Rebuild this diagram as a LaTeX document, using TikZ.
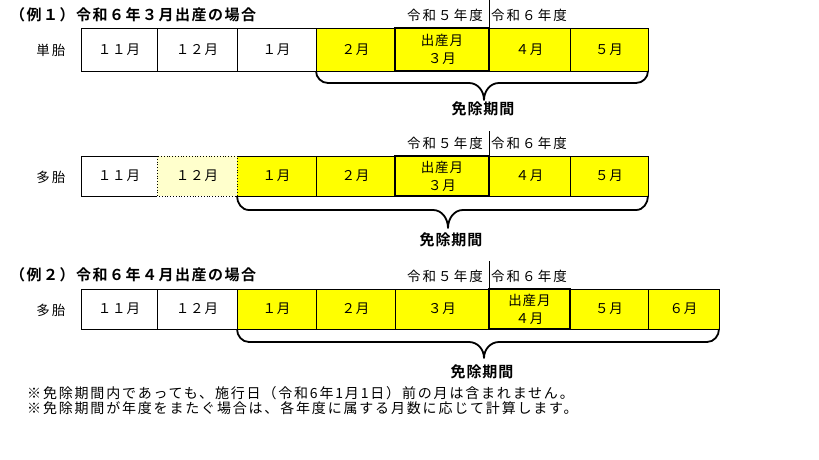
\documentclass[tikz,border=0pt]{standalone}
\usepackage{fontspec}
\setmainfont{Noto Sans CJK JP}
\newfontfamily\cellfont[LetterSpace=6]{Noto Sans CJK JP}
\newfontfamily\yrfont[LetterSpace=15]{Noto Sans CJK JP}
\newfontfamily\ttlfont[LetterSpace=10]{Noto Sans CJK JP Bold}
\newfontfamily\lblfont[LetterSpace=6]{Noto Sans CJK JP Bold}
\newfontfamily\notefont[LetterSpace=13]{Noto Sans CJK JP}
\definecolor{hiyel}{HTML}{FFFF00}
\definecolor{paleyel}{HTML}{FFFFCC}
\tikzset{
  cellbox/.style={draw=black,line width=0.8pt,inner sep=0pt,outer sep=0pt,align=center,font=\cellfont\fontsize{13.5}{18}\selectfont},
  cellfill/.style={inner sep=0pt,outer sep=0pt,align=center,font=\cellfont\fontsize{13.5}{18}\selectfont},
  yel/.style={fill=hiyel},
  birth/.style={line width=2pt},
  bracepath/.style={line width=1.8pt,line join=round},
  ttl/.style={inner sep=0pt,anchor=west,font=\ttlfont\fontsize{15}{17}\selectfont},
  lbl/.style={inner sep=0pt,font=\lblfont\fontsize{15}{17}\selectfont},
  yr/.style={inner sep=0pt,font=\yrfont\fontsize{13.5}{15}\selectfont},
  note/.style={inner sep=0pt,anchor=west,font=\notefont\fontsize{14}{15}\selectfont},
  yrline/.style={line width=0.8pt}
}
\begin{document}
\begin{tikzpicture}[x=1pt,y=-1pt]
\useasboundingbox[fill=white] (0,0) rectangle (819,460);

% ===== Example 1 title
\node[ttl] (t1) at (10,15) {（例１）令和６年３月出産の場合};

% ===== Row 1 (単胎)
\node[yr] (s1) at (51,50) {単胎};
\node[cellbox,minimum width=76pt,minimum height=43pt] (a1) at (119,49.5) {１１月};
\node[cellbox,minimum width=80pt,minimum height=43pt] (a2) at (197,49.5) {１２月};
\node[cellbox,minimum width=79pt,minimum height=43pt] (a3) at (276.5,49.5) {１月};
\node[cellbox,yel,minimum width=79pt,minimum height=43pt] (a4) at (355.5,49.5) {２月};
\node[cellbox,yel,minimum width=81pt,minimum height=43pt] (a6) at (529.5,49.5) {４月};
\node[cellbox,yel,minimum width=78pt,minimum height=43pt] (a7) at (609,49.5) {５月};
\node[cellbox,yel,birth,minimum width=94pt,minimum height=43pt] (a5) at (442,49.5) {出産月\\３月};

\node[yr,anchor=east] (y1a) at (483,15) {令和５年度};
\node[yr,anchor=west] (y1b) at (491,15) {令和６年度};
\coordinate (v1) at (489,0);
\draw[yrline] (v1) -- (a5.north east);

\coordinate (b1l) at (316,71);
\coordinate (b1r) at (648,71);
\coordinate (b1t) at (484,100);
\draw[bracepath] (b1l) to[out=-90,in=180] (328,83) -- (469,83) to[out=0,in=90] (b1t) to[out=90,in=180] (499,83) -- (636,83) to[out=0,in=-90] (b1r);
\node[lbl] (l1) at (483,109) {免除期間};

% ===== Row 2 (多胎)
\node[yr] (s2) at (51,177) {多胎};
\node[cellfill,minimum width=76pt,minimum height=40pt] (c1) at (119,176) {１１月};
\node[cellfill,fill=paleyel,minimum width=80pt,minimum height=40pt] (c2) at (197,176) {１２月};
\node[cellfill,yel,minimum width=79pt,minimum height=40pt] (c3) at (276.5,176) {１月};
\draw[line width=0.8pt] (c1.north east) -- (c1.north west) -- (c1.south west) -- (c1.south east);
\draw[line width=0.8pt] (c3.north west) -- (c3.north east) -- (c3.south east) -- (c3.south west);
\draw[line width=0.8pt,dotted] (c2.north west) rectangle (c2.south east);
\node[cellbox,yel,minimum width=79pt,minimum height=40pt] (c4) at (355.5,176) {２月};
\node[cellbox,yel,minimum width=81pt,minimum height=40pt] (c6) at (529.5,176) {４月};
\node[cellbox,yel,minimum width=78pt,minimum height=40pt] (c7) at (609,176) {５月};
\node[cellbox,yel,birth,minimum width=94pt,minimum height=40pt] (c5) at (442,176) {出産月\\３月};

\node[yr,anchor=east] (y2a) at (483,143) {令和５年度};
\node[yr,anchor=west] (y2b) at (491,143) {令和６年度};
\coordinate (v2) at (489,131);
\draw[yrline] (v2) -- (c5.north east);

\coordinate (b2l) at (237,196);
\coordinate (b2r) at (648,196);
\coordinate (b2t) at (448,228);
\draw[bracepath] (b2l) to[out=-90,in=180] (249,210) -- (433,210) to[out=0,in=90] (b2t) to[out=90,in=180] (463,210) -- (636,210) to[out=0,in=-90] (b2r);
\node[lbl] (l2) at (451,240) {免除期間};

% ===== Example 2 title
\node[ttl] (t2) at (10,275) {（例２）令和６年４月出産の場合};

% ===== Row 3 (多胎)
\node[yr] (s3) at (51,310) {多胎};
\node[cellbox,minimum width=76pt,minimum height=40pt] (d1) at (119,309) {１１月};
\node[cellbox,minimum width=80pt,minimum height=40pt] (d2) at (197,309) {１２月};
\node[cellbox,yel,minimum width=79pt,minimum height=40pt] (d3) at (276.5,309) {１月};
\node[cellbox,yel,minimum width=79pt,minimum height=40pt] (d4) at (355.5,309) {２月};
\node[cellbox,yel,minimum width=94pt,minimum height=40pt] (d5) at (442,309) {３月};
\node[cellbox,yel,minimum width=78pt,minimum height=40pt] (d7) at (609,309) {５月};
\node[cellbox,yel,minimum width=71pt,minimum height=40pt] (d8) at (683.5,309) {６月};
\node[cellbox,yel,birth,minimum width=81pt,minimum height=40pt] (d6) at (529.5,309) {出産月\\４月};

\node[yr,anchor=east] (y3a) at (483,276) {令和５年度};
\node[yr,anchor=west] (y3b) at (491,276) {令和６年度};
\coordinate (v3) at (489,261);
\draw[yrline] (v3) -- (d6.north west);

\coordinate (b3l) at (237,329);
\coordinate (b3r) at (719,329);
\coordinate (b3t) at (484,358);
\draw[bracepath] (b3l) to[out=-90,in=180] (249,342) -- (469,342) to[out=0,in=90] (b3t) to[out=90,in=180] (499,342) -- (707,342) to[out=0,in=-90] (b3r);
\node[lbl] (l3) at (482,372) {免除期間};

% ===== Notes
\node[note] (n1) at (27,393) {※免除期間内であっても、施行日（令和6年1月1日）前の月は含まれません。};
\node[note] (n2) at (27,408) {※免除期間が年度をまたぐ場合は、各年度に属する月数に応じて計算します。};
\end{tikzpicture}
\end{document}
